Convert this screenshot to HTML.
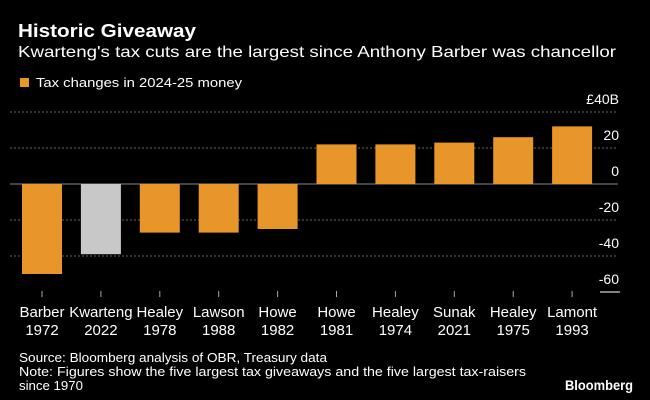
<!DOCTYPE html>
<html><head><meta charset="utf-8"><style>
html,body{margin:0;padding:0;background:#000;}
svg{display:block;font-family:"Liberation Sans",sans-serif;}
</style></head><body>
<svg id="c" width="650" height="400">
<text x="18" y="37" fill="#fff" font-size="18" font-weight="bold" textLength="178" lengthAdjust="spacingAndGlyphs">Historic Giveaway</text>
<text x="18" y="57" fill="#fff" font-size="16" textLength="598" lengthAdjust="spacingAndGlyphs">Kwarteng's tax cuts are the largest since Anthony Barber was chancellor</text>
<rect x="20" y="78" width="9" height="9" fill="#e8952a"/>
<text x="36" y="87" fill="#fff" font-size="13" textLength="206" lengthAdjust="spacingAndGlyphs">Tax changes in 2024-25 money</text>
<g id="grid"></g><g id="bars"></g><g id="xl"></g>
<line x1="600" x2="620" y1="292" y2="292" stroke="#fff" stroke-width="1"/>
<text x="19" y="362" fill="#fff" font-size="13" textLength="308" lengthAdjust="spacingAndGlyphs">Source: Bloomberg analysis of OBR, Treasury data</text>
<text x="19" y="376" fill="#fff" font-size="13" textLength="507" lengthAdjust="spacingAndGlyphs">Note: Figures show the five largest tax giveaways and the five largest tax-raisers</text>
<text x="19" y="390" fill="#fff" font-size="13" textLength="64" lengthAdjust="spacingAndGlyphs">since 1970</text>
<text x="633" y="390" fill="#fff" font-size="14" font-weight="bold" text-anchor="end" textLength="68" lengthAdjust="spacingAndGlyphs">Bloomberg</text>
</svg>
<script>
const names=["Barber","Kwarteng","Healey","Lawson","Howe","Howe","Healey","Sunak","Healey","Lamont"];
const years=["1972","2022","1978","1988","1982","1981","1974","2021","1975","1993"];
const values=[-50,-39,-27,-27,-25,22,22,23,26,32];
const highlight=[false,true,false,false,false,false,false,false,false,false];
const ticks=[40,20,0,-20,-40,-60];
const tickLabels=["£40B","20","0","-20","-40","-60"];
const NS="http://www.w3.org/2000/svg";
const y=v=>184-v*1.8;
const x=i=>42+i*58.9;
function mk(t,a,p){const e=document.createElementNS(NS,t);for(const k in a)e.setAttribute(k,a[k]);p.appendChild(e);return e;}
const g=document.getElementById('grid'),b=document.getElementById('bars'),xl=document.getElementById('xl');
ticks.forEach((t,i)=>{
  if(t!==-60){const l=mk('line',{x1:10,x2:618,y1:y(t),y2:y(t),stroke:t===0?'#888':'#666','stroke-width':1,'stroke-dasharray':t===0?'none':'2,2'},g);
  
  }
  const tx=mk('text',{x:619,y:y(t)-8,fill:'#fff','font-size':14,'text-anchor':'end'},g);
  
  
  tx.textContent=tickLabels[i];
});
values.forEach((v,i)=>{
  const r=mk('rect',{x:x(i)-20,y:Math.min(y(v),y(0)),width:40,height:Math.abs(y(v)-y(0)),fill:highlight[i]?'#c8c8c8':'#e8952a'},b);
  
  
  const tk=mk('line',{x1:x(i),x2:x(i),y1:291,y2:297,stroke:'#aaa','stroke-width':1},xl);
  
  
  const t1=mk('text',{x:x(i),y:317,fill:'#fff','font-size':15,'text-anchor':'middle'},xl);
  
  
  t1.textContent=names[i];
  const t2=mk('text',{x:x(i),y:335,fill:'#fff','font-size':15,'text-anchor':'middle'},xl);
  
  
  t2.textContent=years[i];
});
</script>
</body></html>
